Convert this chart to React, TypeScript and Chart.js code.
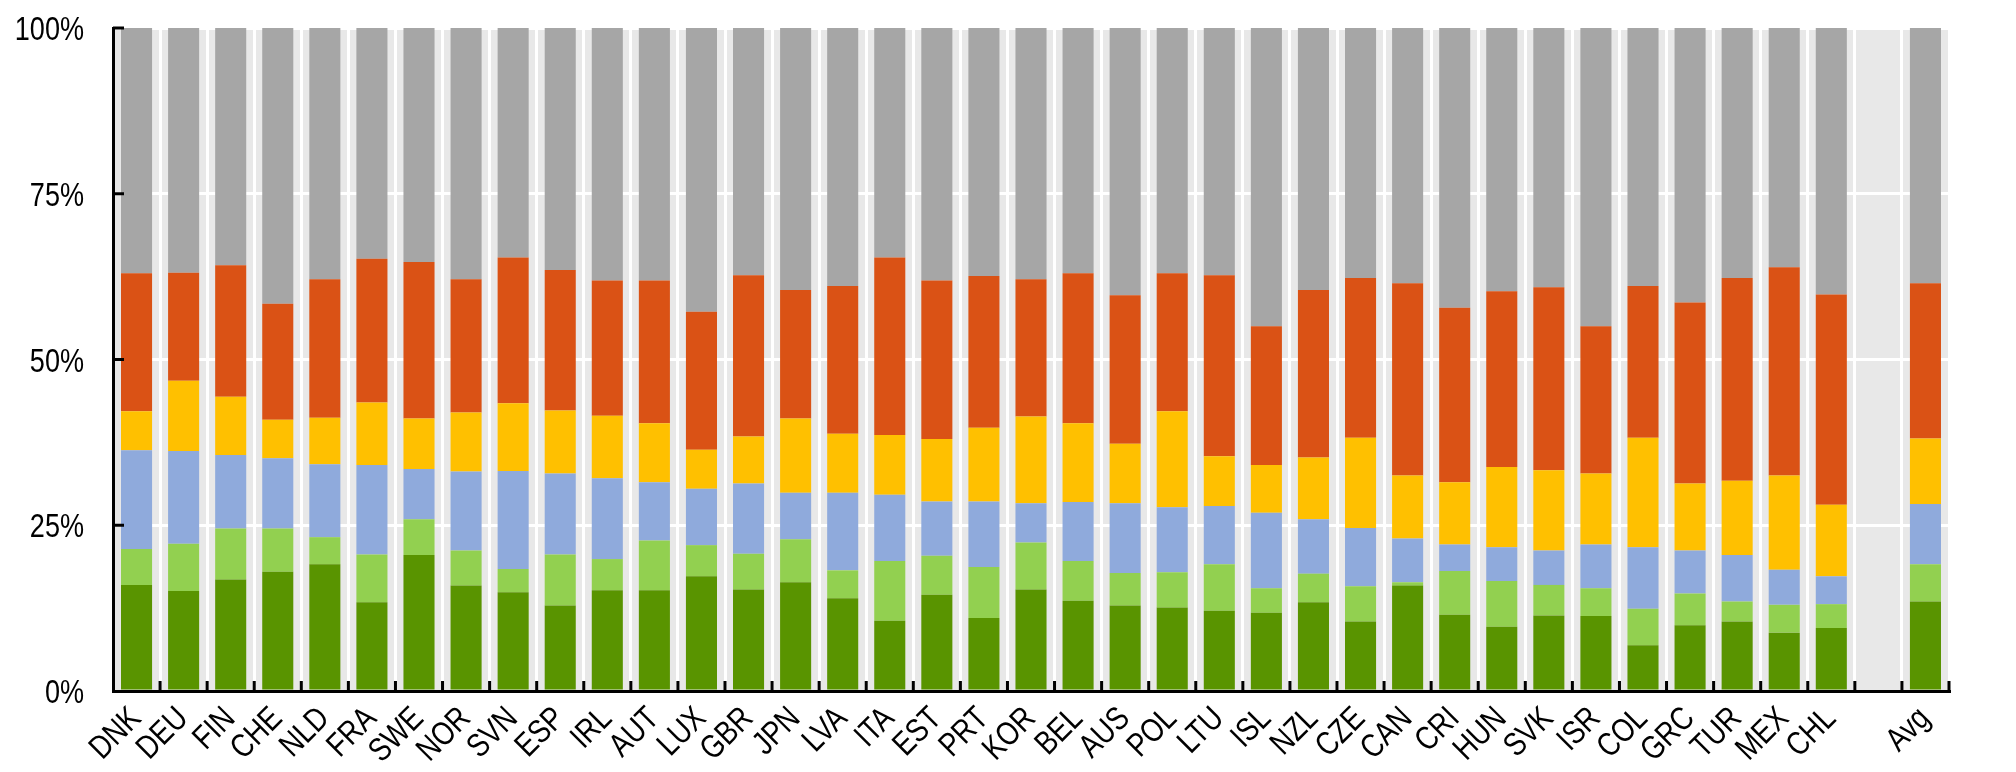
import { useEffect, useRef } from "react";
import {
  Chart,
  BarController,
  BarElement,
  CategoryScale,
  LinearScale,
} from "chart.js";

Chart.register(BarController, BarElement, CategoryScale, LinearScale);

const countries = [
  "DNK", "DEU", "FIN", "CHE", "NLD", "FRA", "SWE", "NOR", "SVN", "ESP",
  "IRL", "AUT", "LUX", "GBR", "JPN", "LVA", "ITA", "EST", "PRT", "KOR",
  "BEL", "AUS", "POL", "LTU", "ISL", "NZL", "CZE", "CAN", "CRI", "HUN",
  "SVK", "ISR", "COL", "GRC", "TUR", "MEX", "CHL", "", "Avg",
];

// segment shares (%), bottom to top
const darkGreen = [
  16.0, 15.1, 16.8, 18.0, 19.1, 13.4, 20.5, 15.9, 14.9, 12.9,
  15.2, 15.2, 17.3, 15.3, 16.4, 14.0, 10.6, 14.5, 11.0, 15.3,
  13.6, 12.9, 12.6, 12.1, 11.8, 13.4, 10.5, 15.9, 11.5, 9.7,
  11.4, 11.3, 6.9, 9.9, 10.5, 8.8, 9.5, null, 13.5,
];
const lightGreen = [
  5.4, 7.1, 7.7, 6.5, 4.1, 7.2, 5.4, 5.3, 3.5, 7.7,
  4.7, 7.5, 4.7, 5.4, 6.5, 4.2, 9.0, 5.9, 7.7, 7.1,
  6.0, 4.9, 5.3, 7.0, 3.7, 4.3, 5.3, 0.5, 6.6, 6.9,
  4.6, 4.2, 5.5, 4.8, 3.0, 4.2, 3.6, null, 5.6,
];
const blue = [
  14.9, 14.0, 11.1, 10.6, 11.0, 13.5, 7.6, 11.9, 14.8, 12.2,
  12.2, 8.8, 8.5, 10.6, 7.0, 11.7, 10.0, 8.2, 9.9, 5.9,
  8.9, 10.5, 9.8, 8.8, 11.4, 8.2, 8.8, 6.6, 4.0, 5.1,
  5.2, 6.6, 9.3, 6.5, 7.0, 5.3, 4.2, null, 9.1,
];
const yellow = [
  5.9, 10.6, 8.8, 5.8, 7.0, 9.4, 7.6, 8.9, 10.2, 9.5,
  9.4, 8.9, 5.9, 7.1, 11.2, 8.9, 9.0, 9.4, 11.1, 13.1,
  11.9, 9.0, 14.5, 7.5, 7.2, 9.3, 13.6, 9.5, 9.4, 12.1,
  12.1, 10.7, 16.5, 10.1, 11.2, 14.2, 10.8, null, 9.9,
];
const orange = [
  20.8, 16.3, 19.8, 17.5, 20.9, 21.7, 23.6, 20.1, 22.0, 21.2,
  20.4, 21.5, 20.8, 24.3, 19.4, 22.3, 26.8, 23.9, 22.9, 20.7,
  22.6, 22.4, 20.8, 27.3, 20.9, 25.3, 24.1, 29.0, 26.3, 26.5,
  27.6, 22.2, 22.9, 27.3, 30.6, 31.4, 31.7, null, 23.4,
];
const gray = [
  37.0, 36.9, 35.8, 41.6, 37.9, 34.8, 35.3, 37.9, 34.6, 36.5,
  38.1, 38.1, 42.8, 37.3, 39.5, 38.9, 34.6, 38.1, 37.4, 37.9,
  37.0, 40.3, 37.0, 37.3, 45.0, 39.5, 37.7, 38.5, 42.2, 39.7,
  39.1, 45.0, 38.9, 41.4, 37.7, 36.1, 40.2, null, 38.5,
];

const yTicks = [0, 25, 50, 75, 100];

// Arial Narrow look: Liberation Sans squeezed horizontally
const FONT = "33px 'Liberation Sans', Arial, sans-serif";
const SQUEEZE = 0.82;

const plotBackground = {
  id: "plotBackground",
  beforeDraw(chart: any) {
    const { ctx, chartArea: a } = chart;
    ctx.save();
    ctx.fillStyle = "#e8e8e8";
    ctx.fillRect(a.left, a.top, a.right - a.left, a.bottom - a.top);
    ctx.restore();
  },
};

// tick marks pointing into the plot
const innerTicks = {
  id: "innerTicks",
  afterDraw(chart: any) {
    const { ctx, chartArea: a, scales } = chart;
    const x = scales.x;
    const y = scales.y;
    ctx.save();
    ctx.strokeStyle = "#000";
    ctx.lineWidth = 3;
    ctx.beginPath();
    for (let i = 1; i <= countries.length; i++) {
      const px =
        i === countries.length
          ? a.right
          : (x.getPixelForValue(i - 1) + x.getPixelForValue(i)) / 2;
      ctx.moveTo(px, a.bottom);
      ctx.lineTo(px, a.bottom - 10);
    }
    yTicks.slice(1).forEach((v) => {
      const py = y.getPixelForValue(v);
      ctx.moveTo(a.left, py);
      ctx.lineTo(a.left + 11, py);
    });
    ctx.stroke();
    ctx.restore();
  },
};

// axis labels in a condensed face
const narrowLabels = {
  id: "narrowLabels",
  afterDraw(chart: any) {
    const { ctx, chartArea: a, scales } = chart;
    ctx.save();
    ctx.fillStyle = "#000";
    ctx.font = FONT;
    ctx.textAlign = "right";
    ctx.textBaseline = "alphabetic";

    yTicks.forEach((v) => {
      const py = scales.y.getPixelForValue(v);
      ctx.save();
      ctx.translate(a.left - 29, py + 12);
      ctx.scale(SQUEEZE, 1);
      ctx.fillText(`${v}%`, 0, 0);
      ctx.restore();
    });

    countries.forEach((c, i) => {
      if (!c) return;
      const px = scales.x.getPixelForValue(i);
      ctx.save();
      ctx.translate(px + 6, a.bottom + 29);
      ctx.rotate(-Math.PI / 4);
      ctx.scale(SQUEEZE, 1);
      ctx.fillText(c, 0, 0);
      ctx.restore();
    });
    ctx.restore();
  },
};

export default function App() {
  const canvasRef = useRef<HTMLCanvasElement>(null);
  const chartRef = useRef<Chart | null>(null);

  useEffect(() => {
    document.body.style.margin = "0";
    if (!canvasRef.current) return;
    const ctx = canvasRef.current.getContext("2d");
    if (!ctx) return;

    if (chartRef.current) {
      chartRef.current.destroy();
      chartRef.current = null;
    }

    const seg = (label: string, data: (number | null)[], color: string) => ({
      label,
      data,
      backgroundColor: color,
      borderWidth: 0,
      barPercentage: 0.66,
      categoryPercentage: 1,
    });

    chartRef.current = new Chart(ctx, {
      type: "bar",
      data: {
        labels: countries,
        datasets: [
          seg("Segment 1", darkGreen, "#599400"),
          seg("Segment 2", lightGreen, "#92d050"),
          seg("Segment 3", blue, "#8faadc"),
          seg("Segment 4", yellow, "#ffc000"),
          seg("Segment 5", orange, "#da5215"),
          seg("Segment 6", gray, "#a6a6a6"),
        ],
      },
      options: {
        responsive: true,
        maintainAspectRatio: false,
        animation: false,
        devicePixelRatio: 1,
        layout: { padding: { top: 28, right: 67, left: 0, bottom: 0 } },
        plugins: {
          legend: { display: false },
          tooltip: { enabled: false },
        },
        scales: {
          x: {
            stacked: true,
            offset: true,
            grid: {
              offset: true,
              color: "#ffffff",
              lineWidth: 3,
              drawTicks: false,
            },
            border: { display: true, color: "#000", width: 3, z: 1 },
            ticks: { display: false, autoSkip: false },
            afterFit: (s: any) => {
              s.height = 81;
            },
          },
          y: {
            stacked: true,
            min: 0,
            max: 100,
            grid: {
              color: "#ffffff",
              lineWidth: 3,
              drawTicks: false,
            },
            border: { display: true, color: "#000", width: 3, z: 1 },
            ticks: { display: false, stepSize: 25 },
            afterFit: (s: any) => {
              s.width = 113;
              s.paddingTop = 0;
              s.paddingBottom = 0;
            },
          },
        },
      },
      plugins: [plotBackground, innerTicks, narrowLabels],
    });

    return () => {
      chartRef.current?.destroy();
      chartRef.current = null;
    };
  }, []);

  return (
    <div style={{ position: "relative", width: "2016px", height: "772px" }}>
      <canvas ref={canvasRef} />
    </div>
  );
}
